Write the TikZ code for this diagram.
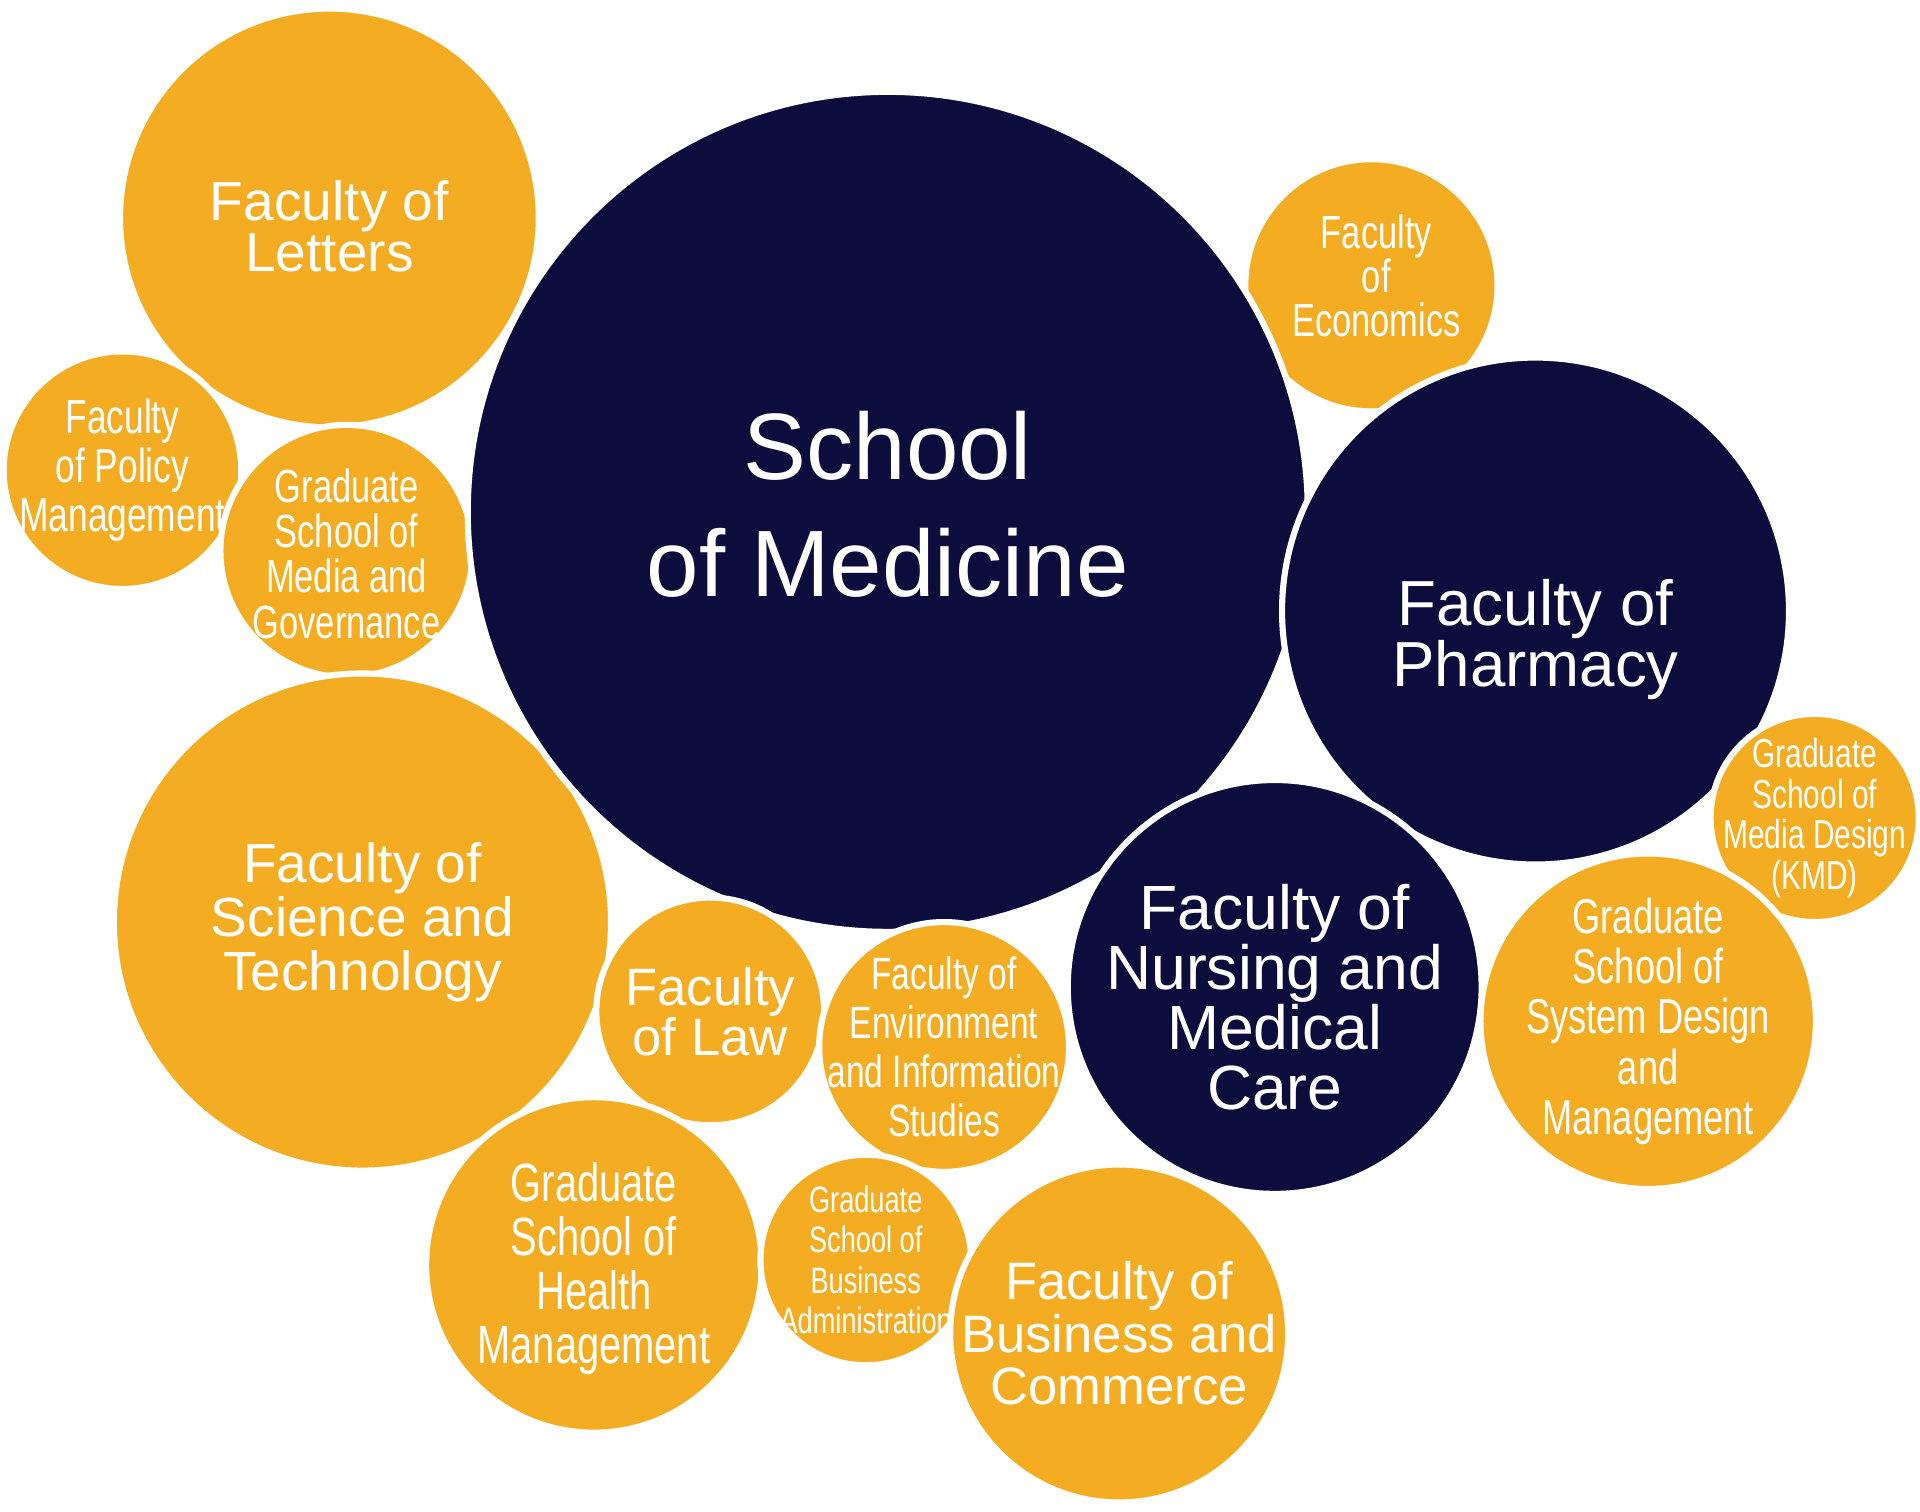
\documentclass[tikz,border=0pt]{standalone}
\usepackage{fontspec}
\setmainfont{Liberation Sans}
\newfontfamily\cond[FakeStretch=0.74]{Liberation Sans}
\definecolor{gold}{HTML}{F4AC22}
\definecolor{navy}{HTML}{0D0D3D}
\begin{document}
\begin{tikzpicture}[x=1pt,y=-1pt,
  bub/.style={draw=white,line width=5pt},
  lab/.style={text=white,align=center,inner sep=0pt}]
\useasboundingbox (0,0) rectangle (1568,1234);
\newcommand{\bb}[5]{\fill[#4,bub] (#2,#3) circle (#5); \coordinate (#1) at (#2,#3);}
\bb{let}{269}{178}{gold}{171}
\bb{pol}{100}{384}{gold}{97}
\bb{mg}{283}{450}{gold}{103}
\bb{sci}{296}{753}{gold}{203}
\bb{eco}{1120}{233}{gold}{103}
\bb{med}{725}{418}{navy}{343}
\bb{pha}{1254}{499}{navy}{207}
\bb{law}{580}{826}{gold}{93}
\bb{env}{771}{855}{gold}{102}
\bb{nur}{1041}{806}{navy}{169}
\bb{kmd}{1482}{668}{gold}{85}
\bb{sys}{1346}{834}{gold}{137}
\bb{hea}{485}{1033}{gold}{137}
\bb{bad}{707}{1029}{gold}{86}
\bb{bco}{914}{1089}{gold}{138}
\node[lab,font=\fontsize{77}{96}\selectfont] (tmed) at (725,412) {School\\of Medicine};
\node[lab,font=\fontsize{52}{50}\selectfont] (tpha) at (1254,522) {Faculty of\\Pharmacy};
\node[lab,font=\fontsize{45}{42}\selectfont] (tlet) at (269,185) {Faculty of\\Letters};
\node[lab,font=\fontsize{45}{44}\selectfont] (tsci) at (sci) {Faculty of\\Science and\\Technology};
\node[lab,font=\fontsize{51}{49}\selectfont] (tnur) at (1041,814) {Faculty of\\Nursing and\\Medical\\Care};
\node[lab,font=\fontsize{43}{40}\selectfont] (tlaw) at (law) {Faculty\\of Law};
\node[lab,font=\fontsize{43}{43}\selectfont] (tbco) at (bco) {Faculty of\\Business and\\Commerce};
\node[lab,font=\cond\fontsize{44}{44}\selectfont] (thea) at (485,1036) {Graduate\\School of\\Health\\Management};
\node[lab,font=\cond\fontsize{39}{40}\selectfont] (tpol) at (pol) {Faculty\\of Policy\\Management};
\node[lab,font=\cond\fontsize{38}{37}\selectfont] (tmg) at (283,452) {Graduate\\School of\\Media and\\Governance};
\node[lab,font=\cond\fontsize{38}{36}\selectfont] (teco) at (1124,225) {Faculty\\of\\Economics};
\node[lab,font=\cond\fontsize{33}{33}\selectfont] (tkmd) at (kmd) {Graduate\\School of\\Media Design\\(KMD)};
\node[lab,font=\cond\fontsize{40}{41}\selectfont] (tsys) at (sys) {Graduate\\School of\\System Design\\and\\Management};
\node[lab,font=\cond\fontsize{37}{40}\selectfont] (tenv) at (env) {Faculty of\\Environment\\and Information\\Studies};
\node[lab,font=\cond\fontsize{30}{33}\selectfont] (tbad) at (bad) {Graduate\\School of\\Business\\Administration};
\end{tikzpicture}
\end{document}
